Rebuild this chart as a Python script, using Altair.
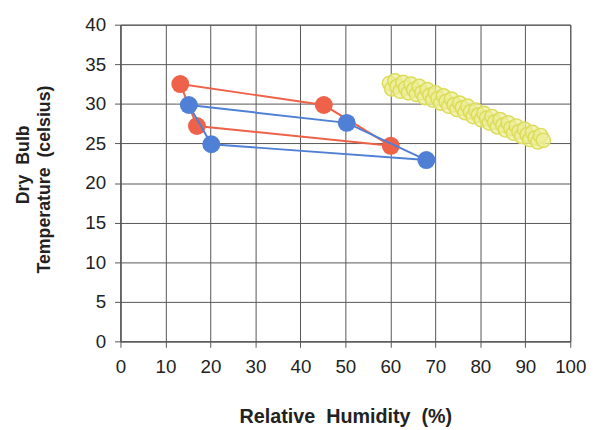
import altair as alt
import pandas as pd

# Series values
red_rh = [13.3, 45.2, 60.1, 17.0]
red_t = [32.5, 29.85, 24.7, 27.2]
blue_rh = [15.2, 50.3, 68.0, 20.2]
blue_t = [29.85, 27.6, 22.9, 24.9]

yellow_rh = [59.8, 60.3, 61.0, 61.5, 62.2, 62.8, 63.4, 64.0, 64.6, 65.2, 65.8, 66.4,
             67.0, 67.6, 68.2, 68.8, 69.4, 70.0, 70.6, 71.2, 71.8, 72.4, 73.0, 73.6,
             74.2, 74.8, 75.4, 76.0, 76.6, 77.2, 77.8, 78.4, 79.0, 79.6, 80.2, 80.8,
             81.4, 82.0, 82.6, 83.2, 83.8, 84.4, 85.0, 85.6, 86.2, 86.8, 87.4, 88.0,
             88.6, 89.2, 89.8, 90.4, 91.0, 91.6, 92.2, 92.8, 93.4, 94.0]
yellow_t = [32.6, 31.9, 32.9, 32.2, 31.6, 32.7, 32.0, 31.4, 32.5, 31.8, 31.2, 32.2,
            31.4, 30.8, 31.8, 31.1, 30.5, 31.4, 30.7, 30.1, 31.0, 30.3, 29.7, 30.6,
            29.9, 29.3, 30.1, 29.5, 28.9, 29.7, 29.0, 28.4, 29.2, 28.6, 28.0, 28.8,
            28.2, 27.6, 28.4, 27.7, 27.1, 28.0, 27.3, 26.7, 27.6, 26.9, 26.3, 27.2,
            26.5, 25.9, 26.8, 26.1, 25.5, 26.4, 25.7, 25.2, 26.0, 25.4]

x_ticks = list(range(0, 101, 10))
y_ticks = list(range(0, 41, 5))
NB = "\u00a0"
x_title = f"Relative{NB} Humidity{NB} (%)"
y_title_lines = [f"Dry{NB} Bulb", f"Temperature{NB} (celsius)"]

RED = "#ee6249"
BLUE = "#4f80d6"
YELLOW_STROKE = "#dcdc5a"
YELLOW_FILL = "#eeee9a"
GRID = "#555555"
TEXT = "#222222"


def loop_df(xs, ys):
    xs2 = xs + [xs[0]]
    ys2 = ys + [ys[0]]
    return pd.DataFrame({"rh": xs2, "t": ys2, "o": list(range(len(xs2)))})


red_pts = pd.DataFrame({"rh": red_rh, "t": red_t})
blue_pts = pd.DataFrame({"rh": blue_rh, "t": blue_t})
yellow = pd.DataFrame({"rh": yellow_rh, "t": yellow_t})

xscale = alt.Scale(domain=[0, 100], nice=False, zero=False)
yscale = alt.Scale(domain=[0, 40], nice=False, zero=False)

xaxis = alt.Axis(values=x_ticks, title=x_title, grid=True, labelFlush=False,
                 labelOverlap=False,
                 tickSize=6, labelPadding=11, titlePadding=30, titleFontSize=20)
yaxis = alt.Axis(values=y_ticks, title=None, grid=True, labelFlush=False,
                 labelOverlap=False, tickSize=6, labelPadding=9)

X = alt.X("rh:Q", scale=xscale, axis=xaxis)
Y = alt.Y("t:Q", scale=yscale, axis=yaxis)
Xn = alt.X("rh:Q", scale=xscale)
Yn = alt.Y("t:Q", scale=yscale)

red_line = alt.Chart(loop_df(red_rh, red_t)).mark_line(color=RED, strokeWidth=2).encode(
    x=X, y=Y, order="o:Q")
red_mark = alt.Chart(red_pts).mark_circle(color=RED, size=330, opacity=1).encode(x=Xn, y=Yn)
blue_line = alt.Chart(loop_df(blue_rh, blue_t)).mark_line(color=BLUE, strokeWidth=2).encode(
    x=Xn, y=Yn, order="o:Q")
blue_mark = alt.Chart(blue_pts).mark_circle(color=BLUE, size=330, opacity=1).encode(x=Xn, y=Yn)
yellow_mark = alt.Chart(yellow).mark_point(
    shape="circle", filled=True, fill=YELLOW_FILL, fillOpacity=0.75,
    stroke=YELLOW_STROKE, strokeWidth=1.5, strokeOpacity=1, size=210
).encode(x=Xn, y=Yn)

title_style = dict(angle=270, align="center", baseline="middle", font="Liberation Sans",
                   fontSize=18, fontWeight="bold", color=TEXT)
ytitle1 = alt.Chart().mark_text(text=y_title_lines[0], **title_style).encode(
    x=alt.value(-98), y=alt.value(142))
ytitle2 = alt.Chart().mark_text(text=y_title_lines[1], **title_style).encode(
    x=alt.value(-76), y=alt.value(157))

chart = alt.layer(red_line, red_mark, blue_line, blue_mark, yellow_mark,
                  ytitle1, ytitle2).properties(
    width=456, height=321,
    autosize=alt.AutoSizeParams(type="none"),
    padding={"left": 114, "top": 14, "right": 22, "bottom": 90},
    background="white",
).configure_view(stroke=GRID, strokeWidth=1).configure_axis(
    gridColor=GRID, gridOpacity=1, gridWidth=1,
    domainColor=GRID, tickColor=GRID,
    labelFont="Liberation Sans", labelFontSize=19, labelColor=TEXT,
    titleFont="Liberation Sans", titleFontWeight="bold", titleColor=TEXT,
)

chart.save("out.html", embed_options={"renderer": "svg", "actions": False})
